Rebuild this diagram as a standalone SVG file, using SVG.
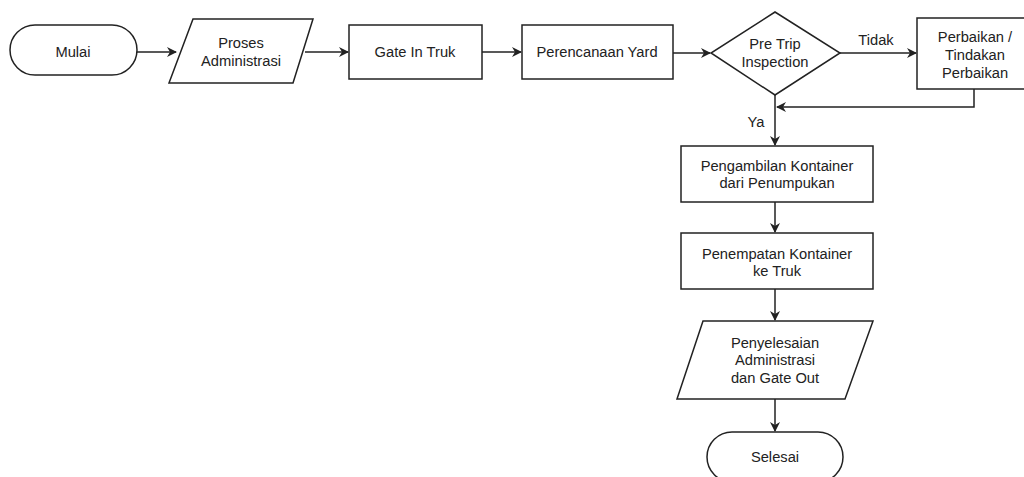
<svg xmlns="http://www.w3.org/2000/svg" width="1024" height="477" viewBox="0 0 1024 477">
<defs>
<marker id="arr" viewBox="0 0 10 10" refX="9" refY="5" markerWidth="10" markerHeight="10" markerUnits="userSpaceOnUse" orient="auto">
<path d="M0,0 L10,5 L0,10 L3,5 Z" fill="#222"/>
</marker>
</defs>
<style>
.s{fill:#fff;stroke:#222;stroke-width:1.5}
.t{font-family:"Liberation Sans",Arial,sans-serif;font-size:14.7px;fill:#222;text-anchor:middle}
.c{fill:none;stroke:#222;stroke-width:1.5;marker-end:url(#arr)}
.l{fill:none;stroke:#222;stroke-width:1.5}
</style>
<rect width="1024" height="477" fill="#fff"/>
<g id="connectors">
<path class="c" d="M137,52 L176,52"/>
<path class="c" d="M305,52 L348,52"/>
<path class="c" d="M482,52 L521,52"/>
<path class="c" d="M673,53 L710,53"/>
<path class="c" d="M840,53 L916,53"/>
<path class="c" d="M974,89 L974,107 L777,107"/>
<path class="c" d="M775,95 L775,145"/>
<path class="c" d="M775,202 L775,232"/>
<path class="c" d="M775,289 L775,320"/>
<path class="c" d="M775,399 L775,431"/>
<text class="t" x="876" y="45">Tidak</text>
<text class="t" x="756" y="127">Ya</text>
</g>
<g id="mulai">
<rect class="s" x="10" y="25" width="127" height="50" rx="25" ry="25"/>
<text class="t" x="73" y="57">Mulai</text>
</g>
<g id="proses-administrasi">
<polygon class="s" points="193,19 313,19 293,83 169,83"/>
<text class="t" x="241" y="48">Proses</text>
<text class="t" x="241" y="66">Administrasi</text>
</g>
<g id="gate-in">
<rect class="s" x="349" y="25" width="133" height="54"/>
<text class="t" x="415" y="57">Gate In Truk</text>
</g>
<g id="perencanaan-yard">
<rect class="s" x="522" y="25" width="151" height="54"/>
<text class="t" x="597" y="57">Perencanaan Yard</text>
</g>
<g id="pre-trip">
<polygon class="s" points="775,12 840,53 775,95 711,53"/>
<text class="t" x="775" y="49">Pre Trip</text>
<text class="t" x="775" y="67">Inspection</text>
</g>
<g id="perbaikan">
<rect class="s" x="917" y="18" width="116" height="71"/>
<text class="t" x="975" y="42">Perbaikan /</text>
<text class="t" x="975" y="60">Tindakan</text>
<text class="t" x="975" y="78">Perbaikan</text>
</g>
<g id="pengambilan">
<rect class="s" x="681" y="146" width="192" height="56"/>
<text class="t" x="777" y="171">Pengambilan Kontainer</text>
<text class="t" x="777" y="188">dari Penumpukan</text>
</g>
<g id="penempatan">
<rect class="s" x="681" y="233" width="192" height="56"/>
<text class="t" x="777" y="259">Penempatan Kontainer</text>
<text class="t" x="777" y="276">ke Truk</text>
</g>
<g id="penyelesaian">
<polygon class="s" points="703,321 873,321 845,399 677,399"/>
<text class="t" x="775" y="348">Penyelesaian</text>
<text class="t" x="775" y="365">Administrasi</text>
<text class="t" x="775" y="383">dan Gate Out</text>
</g>
<g id="selesai">
<rect class="s" x="707" y="432" width="136" height="50" rx="25" ry="25"/>
<text class="t" x="775" y="462">Selesai</text>
</g>
</svg>
